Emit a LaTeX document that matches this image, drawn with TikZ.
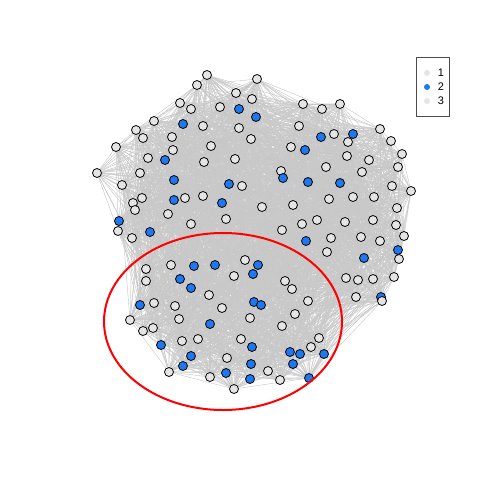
\documentclass[tikz,border=0pt]{standalone}
\usepackage{fontspec}
\setmainfont{Liberation Sans}
\pgfdeclarelayer{bg}
\pgfsetlayers{bg,main}
\definecolor{vblue}{RGB}{30,120,240}
\definecolor{vgray}{RGB}{229,229,229}
\definecolor{egray}{RGB}{200,200,200}
\tikzset{
  vg/.style={circle,draw=black,line width=0.8pt,fill=vgray,minimum size=9pt,inner sep=0pt},
  vb/.style={circle,draw=black,line width=0.8pt,fill=vblue,minimum size=9pt,inner sep=0pt},
  lnk/.style={draw=egray,line width=0.45pt},
  legdot/.style={circle,inner sep=0pt,minimum size=6pt},
  legtxt/.style={font=\fontsize{11}{13}\selectfont,inner sep=0pt,anchor=center}
}
\def\nodelist{207/75/g,197/85/g,257/79/g,236/93/g,252/99/g,180/103/g,191/109/g,220/107/g,239/109/b,256/117/b,
154/121/g,183/124/b,203/126/g,239/128/g,136/130/g,143/138/g,172/137/g,251/139/g,116/147/g,211/146/g,
173/150/g,148/158/g,165/160/b,204/162/g,235/159/g,97/173/g,140/173/g,174/180/b,122/185/g,229/184/b,
242/186/g,303/104/g,322/109/g,340/104/g,299/126/g,321/137/b,334/134/g,353/134/b,348/142/g,380/129/g,
391/141/g,402/154/g,291/147/g,305/150/b,347/156/g,369/160/g,398/167/g,326/167/g,362/172/g,281/171/g,
283/178/b,308/182/b,340/183/b,392/186/g,411/191/g,133/203/g,142/198/g,135/210/g,174/200/b,185/198/g,
203/196/g,222/203/b,168/214/g,191/224/g,226/219/g,119/221/b,118/231/g,132/238/g,150/232/b,146/269/g,
146/281/g,171/265/g,194/266/b,215/265/b,245/260/g,258/265/b,180/279/b,234/276/g,253/274/b,191/288/b,
209/295/g,262/207/g,293/205/g,329/199/g,353/197/g,374/197/g,397/208/g,302/224/g,317/220/g,345/222/g,
373/220/g,396/225/g,282/230/g,306/241/b,331/238/g,361/237/g,380/241/g,404/236/g,327/252/g,364/258/b,
398/250/b,399/259/g,285/281/g,292/289/g,346/278/g,358/280/g,373/279/g,394/277/g,356/297/g,381/297/b,
382/301/g,308/301/g,140/305/b,154/303/g,175/306/g,222/308/g,254/302/b,261/305/b,130/320/g,143/331/g,
153/328/g,179/319/g,210/324/b,250/318/g,182/341/g,198/339/g,161/345/b,241/339/g,252/347/b,191/356/b,
227/358/g,183/366/b,251/364/b,169/372/g,210/377/g,226/373/b,250/379/b,234/389/g,295/314/g,282/326/g,
319/338/g,311/347/g,290/352/b,300/354/b,324/354/b,293/364/b,268/371/g,280/380/g,309/378/b}
\def\NX#1{\csname nx#1\endcsname}
\def\NY#1{\csname ny#1\endcsname}
\begin{document}
\begin{tikzpicture}[x=1pt,y=-1pt]
\useasboundingbox (0,0) rectangle (480,480);
\foreach \x/\y/\c [count=\i] in \nodelist {
  \node[v\c] (n\i) at (\x,\y) {};
  \expandafter\xdef\csname nx\i\endcsname{\x}
  \expandafter\xdef\csname ny\i\endcsname{\y}
}
\pgfmathsetseed{11}
\begin{pgfonlayer}{bg}
\foreach \i in {1,...,148}{
  \pgfmathtruncatemacro\jstart{\i+1}
  \foreach \j in {\jstart,...,149}{
    \pgfmathsetmacro\dd{veclen((\NX{\i}-\NX{\j})/100,(\NY{\i}-\NY{\j})/100)}
    \pgfmathtruncatemacro\ok{(\dd<3)&&(rnd<1.0*exp(-0.9*\dd))}
    \ifnum\ok=1 \draw[lnk] (n\i) -- (n\j); \fi
  }
}
\end{pgfonlayer}
\draw[red,line width=2pt] (223,321.5) ellipse [x radius=119, y radius=88.5];
\node[draw=black!70,line width=0.6pt,minimum width=33pt,minimum height=59pt,inner sep=0pt] (leg) at (432.5,86.5) {};
\node[legdot,fill=vgray] (d1) at (427,73) {};
\node[legdot,fill=vblue] (d2) at (427,87) {};
\node[legdot,fill=vgray] (d3) at (427,101) {};
\node[legtxt] (t1) at (441,73) {1};
\node[legtxt] (t2) at (441,87) {2};
\node[legtxt] (t3) at (441,101) {3};
\end{tikzpicture}
\end{document}
